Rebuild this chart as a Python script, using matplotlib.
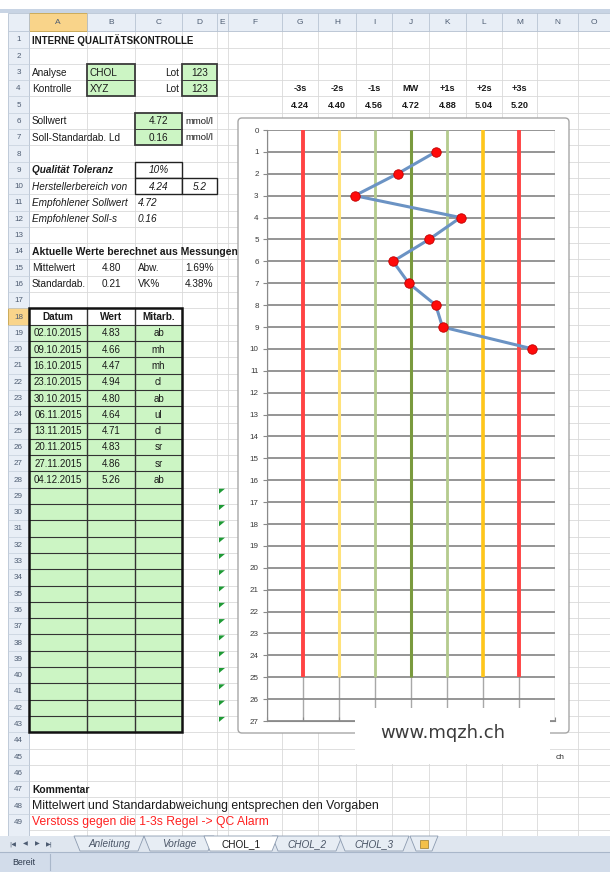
import matplotlib.pyplot as plt
import matplotlib.patches as mpatches
import numpy as np

# QC sheet data
runs = list(range(1, 11))
dates = ["02.10.2015", "09.10.2015", "16.10.2015", "23.10.2015", "30.10.2015",
         "06.11.2015", "13.11.2015", "20.11.2015", "27.11.2015", "04.12.2015"]
values = [4.83, 4.66, 4.47, 4.94, 4.80, 4.64, 4.71, 4.83, 4.86, 5.26]
staff = ["ab", "mh", "mh", "cl", "ab", "ul", "cl", "sr", "sr", "ab"]

sigma_labels = ["-3s", "-2s", "-1s", "MW", "+1s", "+2s", "+3s"]
sigma_values = [4.24, 4.40, 4.56, 4.72, 4.88, 5.04, 5.20]
sigma_colors = ["#ff4343", "#ffe27a", "#b5cc8e", "#7a9a3e", "#b5cc8e", "#ffc61a", "#ff4343"]

stats_mean = "4.80"
stats_sd = "0.21"
stats_abw = "1.69%"
stats_vk = "4.38%"

tabs = ["Anleitung", "Vorlage", "CHOL_1", "CHOL_2", "CHOL_3"]
tab_x = [109, 179, 241, 307, 374]

W, H = 610, 872
FONT = "Liberation Sans"
col_edges = [29, 87, 135, 182, 217, 228, 282, 318, 356, 392, 429, 466, 502, 537, 578, 640]
col_names = list("ABCDEFGHIJKLMNO")
ROW0, RH = 31.3, 16.3


def row_top(n):
    return ROW0 + (n - 1) * RH


def row_mid(n):
    return row_top(n) + RH / 2


fig = plt.figure(figsize=(W / 100, H / 100), dpi=100)
sh = fig.add_axes([0, 0, 1, 1])
sh.set_xlim(0, W)
sh.set_ylim(H, 0)
sh.axis("off")


def rect(ax, x0, y0, x1, y1, fc="none", ec="none", lw=0.8, z=1):
    ax.add_patch(mpatches.Rectangle((x0, y0), x1 - x0, y1 - y0, fc=fc, ec=ec, lw=lw, zorder=z))


def cell(col, row, txt, ha="left", size=7.2, **kw):
    i = col_names.index(col)
    if ha == "left":
        x = col_edges[i] + 3
    elif ha == "right":
        x = col_edges[i + 1] - 3
    else:
        x = (col_edges[i] + col_edges[i + 1]) / 2
    kw.setdefault("color", "#1a1a1a")
    sh.text(x, row_mid(row) + 0.5, txt, ha=ha, va="center", fontsize=size,
            family=FONT, zorder=6, **kw)


# sheet grid
for x in col_edges:
    sh.plot([x, x], [31, 836], color="#d9d9d9", lw=0.6, zorder=1)
for n in range(1, 51):
    sh.plot([29, W], [row_top(n)] * 2, color="#d9d9d9", lw=0.6, zorder=1)

# header strip and row numbers
rect(sh, 0, 9, W, 13, fc="#c8d4e4", z=2)
rect(sh, 8, 13, W, 31, fc="#e8eef6", ec="#b7c3d3", lw=0.6, z=2)
rect(sh, 8, 31, 29, 836, fc="#e8eef6", ec="#b7c3d3", lw=0.6, z=2)
rect(sh, 29, 13, 87, 31, fc="#f9d48a", ec="#c9a64d", lw=0.6, z=3)
rect(sh, 8, row_top(18), 29, row_top(19), fc="#f9d48a", ec="#c9a64d", lw=0.6, z=3)
for i, c in enumerate(col_names):
    x0, x1 = col_edges[i], min(col_edges[i + 1], W)
    sh.plot([x0, x0], [13, 31], color="#b7c3d3", lw=0.6, zorder=3)
    if x1 - x0 > 8:
        sh.text((x0 + x1) / 2, 22.5, c, ha="center", va="center", fontsize=6,
                family=FONT, color="#4d5c72", zorder=4)
for n in range(1, 50):
    sh.plot([8, 29], [row_top(n)] * 2, color="#c5cfdc", lw=0.5, zorder=3)
    sh.text(18.5, row_mid(n) + 0.5, str(n), ha="center", va="center", fontsize=5.8,
            family=FONT, color="#4d5c72", zorder=4)

# header block
cell("A", 1, "INTERNE QUALITÄTSKONTROLLE", size=7.0, weight="bold")
cell("A", 3, "Analyse")
cell("A", 4, "Kontrolle")
cell("C", 3, "Lot", ha="right")
cell("C", 4, "Lot", ha="right")
for col, r0, r1 in [("B", 3, 4), ("D", 3, 4), ("C", 6, 7)]:
    i = col_names.index(col)
    rect(sh, col_edges[i], row_top(r0), col_edges[i + 1], row_top(r1 + 1),
         fc="#ccf5c4", ec="#3a3a3a", lw=1.3, z=4)
    sh.plot([col_edges[i], col_edges[i + 1]], [row_top(r1)] * 2, color="#3a3a3a", lw=0.7, zorder=5)
cell("B", 3, "CHOL")
cell("B", 4, "XYZ")
cell("D", 3, "123", ha="center")
cell("D", 4, "123", ha="center")
cell("A", 6, "Sollwert")
cell("A", 7, "Soll-Standardab. Ld")
cell("C", 6, "4.72", ha="center")
cell("C", 7, "0.16", ha="center")
cell("D", 6, "mmol/l", size=6.8)
cell("D", 7, "mmol/l", size=6.8)

cell("A", 9, "Qualität Toleranz", weight="bold", style="italic")
cell("A", 10, "Herstellerbereich von", style="italic")
rect(sh, 135, row_top(9), 182, row_top(10), fc="white", ec="#222222", lw=1.0, z=5)
rect(sh, 135, row_top(10), 182, row_top(11), fc="white", ec="#222222", lw=1.0, z=5)
rect(sh, 182, row_top(10), 217, row_top(11), fc="white", ec="#222222", lw=1.0, z=5)
cell("C", 9, "10%", ha="center", style="italic")
cell("C", 10, "4.24", ha="center", style="italic")
cell("D", 10, "5.2", ha="center", style="italic")
cell("A", 11, "Empfohlener Sollwert", style="italic")
cell("C", 11, "4.72", style="italic")
cell("A", 12, "Empfohlener Soll-s", style="italic")
cell("C", 12, "0.16", style="italic")

cell("A", 14, "Aktuelle Werte berechnet aus Messungen", weight="bold", size=7.5)
cell("A", 15, "Mittelwert")
cell("B", 15, stats_mean, ha="center")
cell("C", 15, "Abw.")
cell("D", 15, stats_abw)
cell("A", 16, "Standardab.")
cell("B", 16, stats_sd, ha="center")
cell("C", 16, "VK%")
cell("D", 16, stats_vk)

# measurement table A18:C43
rect(sh, 29, row_top(18), 182, row_top(19), fc="white", z=4)
rect(sh, 29, row_top(19), 182, row_top(44), fc="#ccf5c4", z=4)
for n in range(19, 44):
    sh.plot([29, 182], [row_top(n)] * 2, color="#333333", lw=0.8, zorder=5)
for x in [87, 135]:
    sh.plot([x, x], [row_top(18), row_top(44)], color="#333333", lw=1.0, zorder=5)
rect(sh, 29, row_top(18), 182, row_top(44), ec="#111111", lw=1.8, z=5)
for col, t in zip("ABC", ["Datum", "Wert", "Mitarb."]):
    cell(col, 18, t, ha="center", weight="bold")
for k, (d, v, s) in enumerate(zip(dates, values, staff)):
    cell("A", 19 + k, d, ha="center", size=7.0)
    cell("B", 19 + k, f"{v:.2f}", ha="center", size=7.0)
    cell("C", 19 + k, s, ha="center", size=7.0)

# error markers in column E
for n in range(29, 44):
    t = row_top(n)
    sh.add_patch(mpatches.Polygon([(219, t + 1), (225, t + 1), (219, t + 6)],
                                  closed=True, fc="#1e9a35", ec="none", zorder=5))

# control limits above the chart
for col, lab, val in zip("GHIJKLM", sigma_labels, sigma_values):
    cell(col, 4, lab, ha="center", size=6.6, weight="bold")
    cell(col, 5, f"{val:.2f}", ha="center", size=6.6, weight="bold")

# comments
cell("A", 47, "Kommentar", weight="bold", size=7.4)
cell("A", 48, "Mittelwert und Standardabweichung entsprechen den Vorgaben", size=8.8)
cell("A", 49, "Verstoss gegen die 1-3s Regel -> QC Alarm", size=8.7, color="#ff2020")

# sheet tabs and status bar
rect(sh, 0, 836, W, 852, fc="#dfe6ef", z=6)
rect(sh, 0, 852, W, H, fc="#d2dcea", z=6)
sh.plot([0, W], [852, 852], color="#a9b7ca", lw=0.8, zorder=7)
for x, g in zip([13, 25, 37, 49], ["|◀", "◀", "▶", "▶|"]):
    sh.text(x, 844, g, ha="center", va="center", fontsize=4.5, color="#4d5c72",
            family="DejaVu Sans", zorder=8)
for name, x in zip(tabs, tab_x):
    active = name == "CHOL_1"
    half = 29 if not active else 31
    poly = [(x - half - 6, 836), (x + half + 6, 836), (x + half, 851), (x - half, 851)]
    sh.add_patch(mpatches.Polygon(poly, closed=True, fc="white" if active else "#e7edf4",
                                  ec="#8c9bb0", lw=0.6, zorder=7 + active))
    sh.text(x, 844, name, ha="center", va="center", fontsize=7.2, family=FONT,
            style="normal" if active else "italic",
            color="#1a1a1a" if active else "#4a5566", zorder=9)
sh.add_patch(mpatches.Polygon([(410, 836), (438, 836), (432, 851), (416, 851)], closed=True,
                              fc="#e7edf4", ec="#8c9bb0", lw=0.6, zorder=7))
rect(sh, 420, 840, 428, 848, fc="#f3c04a", ec="#9a7a2a", lw=0.5, z=8)
sh.text(12, 862, "Bereit", ha="left", va="center", fontsize=6.3, family=FONT,
        color="#2d3a4d", zorder=8)
sh.plot([50, 50], [854, 870], color="#a9b7ca", lw=0.8, zorder=8)

# chart area
sh.add_patch(mpatches.FancyBboxPatch((238, 118), 331, 615, boxstyle="round,pad=0,rounding_size=4",
                                     fc="white", ec="#a6a6a6", lw=1.0, zorder=10))

x0, x1 = 4.08, 5.36
ax = fig.add_axes([267 / W, 1 - 721 / H, 288 / W, 591 / H], zorder=5)
ax.set_facecolor("none")
ax.set_xlim(x0, x1)
ax.set_ylim(27, 0)
ax.set_yticks(range(0, 28))
ax.set_xticks(np.round(np.arange(x0, x1 + 0.001, 0.16), 2))
ax.tick_params(axis="y", length=3, width=0.8, color="#8a8a8a", labelsize=5.8,
               labelcolor="#3a3a3a", pad=3)
ax.tick_params(axis="x", direction="in", length=3, color="#8a8a8a", labelbottom=False)
for lab in ax.get_yticklabels():
    lab.set_family(FONT)
for s in ["top", "right"]:
    ax.spines[s].set_visible(False)
ax.spines["left"].set_color("#8a8a8a")
ax.spines["bottom"].set_color("#8a8a8a")
ax.grid(axis="y", color="#8c8c8c", lw=1.3)
ax.grid(axis="x", color="#a8a8a8", lw=1.0)
ax.set_axisbelow(True)

ax.vlines(sigma_values, 0, 25, colors=sigma_colors, lw=[2.8, 2.2, 2.0, 2.2, 2.0, 2.6, 2.8], zorder=3)
ax.plot(values, runs, color="#6b93c4", lw=2.2, zorder=4, solid_joinstyle="round")
ax.plot(values, runs, ls="none", marker="o", ms=6.8, mfc="#ff0a0a", mec="#c00000",
        mew=0.6, zorder=5)

# watermark overlay
ov = fig.add_axes([0, 0, 1, 1], zorder=10)
ov.set_xlim(0, W)
ov.set_ylim(H, 0)
ov.axis("off")
ov.patch.set_visible(False)
rect(ov, 355, 708, 550, 764, fc="white", z=1)
ov.text(443, 733, "www.mqzh.ch", ha="center", va="center", fontsize=13,
        family="DejaVu Sans", color="#3c3c3c", zorder=2)
ov.text(556, 757, "ch", ha="left", va="center", fontsize=6, family=FONT, color="#333333")

fig.savefig("out.png", dpi=100)
